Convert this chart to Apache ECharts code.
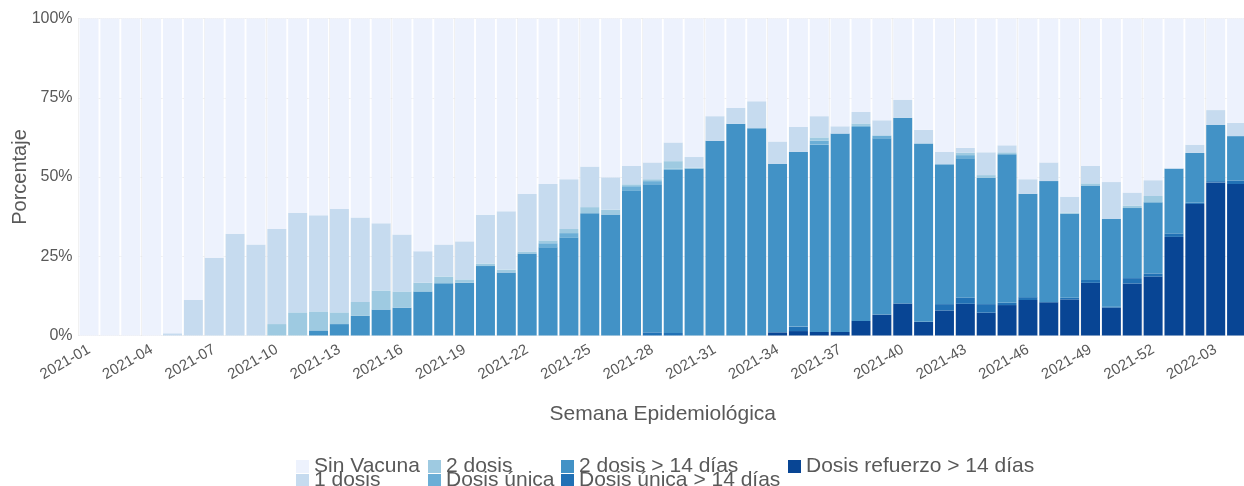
<!DOCTYPE html>
<html>
<head>
<meta charset="utf-8">
<script src="https://cdn.jsdelivr.net/npm/echarts@6/dist/echarts.min.js"></script>
<style>
    html, body { margin: 0; padding: 0; background: #fff; }
    #chart { width: 1244px; height: 486px; }
</style>
</head>
<body>
<div id="chart"></div>
<script>
// semanas epidemiologicas 2021-01 .. 2022-04
const semanas = [];
for (let i = 1; i <= 52; i++) semanas.push('2021-' + String(i).padStart(2, '0'));
for (let i = 1; i <= 4; i++) semanas.push('2022-' + String(i).padStart(2, '0'));

// porcentajes por capa (de abajo hacia arriba)
const refuerzo14 = [0,0,0,0,0,0,0,0,0,0, 0,0,0,0,0,0,0,0,0,0, 0,0,0,0,0,0,0,0,0,0, 0,0,0,1.0,1.4,1.1,1.1,4.6,6.6,10.1, 4.3,7.9,10.0,7.2,9.6,11.2,10.5,11.4,16.6,8.8, 16.4,18.6,31.1,41.5,48.3,47.8];
const unica14 = [0,0,0,0,0,0,0,0,0,0, 0,0,0,0,0,0,0,0,0,0, 0,0,0,0,0,0,0,1.0,0.8,0, 0,0,0,0,1.4,0,0,0,0,0, 0,2.0,2.0,2.7,0.7,0.9,0,0.5,0.9,0.3, 1.7,1.0,1.1,0.4,0.4,1.1];
const dosDosis14 = [0,0,0,0,0,0,0,0,0,0, 0,1.6,3.6,6.2,8.2,8.8,13.9,16.5,16.6,21.9, 19.9,25.9,27.8,30.8,38.6,38.2,45.6,46.7,51.5,52.7, 61.4,66.8,65.4,53.1,55.1,59.1,62.6,61.2,55.6,58.6, 56.3,44.1,43.9,39.8,46.9,32.6,38.2,26.5,29.8,27.7, 22.1,22.4,20.5,15.7,17.7,14.0];
const unica = [0,0,0,0,0,0,0,0,0,0, 0,0,0,0,0,0,0,0,0,0, 0,0,1.3,1.5,0,0,1.5,1.0,0.3,0, 0,0,0,0,0,1.3,0,0.3,0.9,0, 0,0,1.0,0,0,0,0,0,0,0, 0,0,0,0,0,0];
const dosDosis = [0,0,0,0,0,0,0,0,0,3.6, 7.3,6.0,3.7,4.4,6.0,5.1,2.8,2.1,1.1,0.8, 0.9,0.6,0.9,1.3,1.9,1.5,0.6,0.6,2.4,0.2, 0,0,0,0,0,1.0,0,0.8,0,0, 0,0,0.8,0.9,0.6,0,0,0.4,0.7,0, 0.8,2.0,0,0,0,0];
const unaDosis = [0,0,0,0,0.7,11.2,24.5,32.1,28.7,30.0, 31.4,30.3,32.6,26.6,21.2,18.0,9.9,10.1,12.0,15.4, 18.4,18.1,17.8,15.7,12.8,10.2,5.8,5.3,5.9,3.4, 7.8,5.0,8.5,7.1,7.9,6.7,2.3,3.6,4.8,5.7, 4.3,3.9,1.5,7.2,2.2,4.6,5.9,5.0,5.5,11.6, 4.1,5.0,0,2.6,4.7,4.2];
const sinVacuna = [100,100,100,100,99.3,88.8,75.5,67.9,71.3,66.4, 61.3,62.1,60.1,62.8,64.6,68.1,73.4,71.3,70.3,61.9, 60.8,55.4,52.2,50.7,46.7,50.1,46.5,45.4,39.1,43.7, 30.8,28.2,26.1,38.8,34.2,30.8,34.0,29.5,32.1,25.6, 35.1,42.1,40.8,42.2,40.0,50.7,45.4,56.2,46.5,51.6, 54.9,51.0,47.3,39.8,28.9,32.9];

const capas = [
    { name: 'Dosis refuerzo > 14 días', data: refuerzo14, color: '#084594' },
    { name: 'Dosis única > 14 días', data: unica14, color: '#2171B5' },
    { name: '2 dosis > 14 días', data: dosDosis14, color: '#4292C6' },
    { name: 'Dosis única', data: unica, color: '#6BAED6' },
    { name: '2 dosis', data: dosDosis, color: '#9ECAE1' },
    { name: '1 dosis', data: unaDosis, color: '#C6DBEF' },
    { name: 'Sin Vacuna', data: sinVacuna, color: '#EDF2FD' }
];

const fuente = "'Liberation Sans', Arial, sans-serif";
const gris = '#595959';

// posiciones de cada entrada de la leyenda (dos filas, cuatro columnas)
const leyendaPos = {
    'Sin Vacuna': [296, 456],
    '1 dosis': [296, 470],
    '2 dosis': [428, 456],
    'Dosis única': [428, 470],
    '2 dosis > 14 días': [561, 456],
    'Dosis única > 14 días': [561, 470],
    'Dosis refuerzo > 14 días': [788, 456]
};

const chart = echarts.init(document.getElementById('chart'));

const option = {
    animation: false,
    textStyle: { fontFamily: fuente },
    grid: { left: 78.6, right: -3, top: 18.5, bottom: 150.5, outerBoundsMode: 'none', containLabel: false },
    legend: Object.keys(leyendaPos).map(n => ({
        data: [n],
        left: leyendaPos[n][0],
        top: leyendaPos[n][1],
        padding: 0,
        itemWidth: 13,
        itemHeight: 13,
        icon: 'rect',
        selectedMode: false,
        textStyle: { fontSize: 21, color: gris, lineHeight: 13, fontFamily: fuente }
    })),
    xAxis: {
        type: 'category',
        data: semanas,
        name: 'Semana Epidemiológica',
        nameLocation: 'middle',
        nameGap: 68,
        nameMoveOverlap: false,
        nameTextStyle: { fontSize: 21, color: gris, lineHeight: 21 },
        axisLine: { show: false },
        axisTick: { show: false, alignWithLabel: true, interval: 2 },
        axisLabel: { interval: 2, rotate: 30, fontSize: 15, color: gris, margin: 13 },
        splitLine: { show: true, interval: 2, lineStyle: { color: '#e3e3e3', type: 'dotted' } }
    },
    yAxis: {
        type: 'value',
        min: 0,
        max: 100,
        interval: 25,
        name: 'Porcentaje',
        nameLocation: 'middle',
        nameGap: 48,
        nameMoveOverlap: false,
        nameTextStyle: { fontSize: 20, color: gris, lineHeight: 20 },
        axisLabel: { formatter: '{value}%', fontSize: 16, color: gris, margin: 6 },
        splitLine: { show: true, lineStyle: { color: '#e3e3e3', type: 'dotted' } }
    },
    series: capas.map(c => ({
        name: c.name,
        type: 'bar',
        stack: 'total',
        data: c.data,
        barCategoryGap: '9%',
        itemStyle: { color: c.color },
        emphasis: { disabled: true }
    }))
};

chart.setOption(option);
</script>
</body>
</html>
